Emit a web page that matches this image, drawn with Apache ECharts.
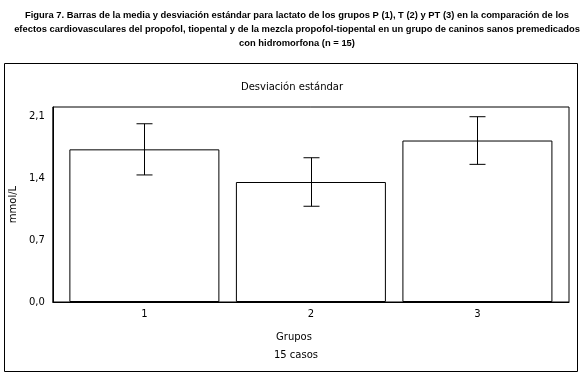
<!DOCTYPE html>
<html>
<head>
<meta charset="utf-8">
<script src="https://cdn.jsdelivr.net/npm/echarts@6/dist/echarts.min.js"></script>
<style>
  html, body { margin: 0; padding: 0; background: #fff; }
  #chart { width: 584px; height: 378px; }
</style>
</head>
<body>
<div id="chart"></div>
<script>
// datos
const grupos = [1, 2, 3];
const medias = [1.73, 1.36, 1.83];
const desvios = [0.29, 0.275, 0.27];
const yTicks = [0, 0.7, 1.4, 2.1];

const titulo = 'Figura 7. Barras de la media y desviación estándar para lactato de los grupos P (1), T (2) y PT (3) en la comparación de los\n' +
  'efectos cardiovasculares del propofol, tiopental y de la mezcla propofol-tiopental en un grupo de caninos sanos premedicados\n' +
  'con hidromorfona (n = 15)';

const fuente = 'DejaVu Sans';
const chart = echarts.init(document.getElementById('chart'));

const texto = (t, x, y, extra) => ({
  text: t,
  left: x,
  top: y,
  textAlign: 'center',
  textStyle: Object.assign({ fontFamily: fuente, fontWeight: 'normal', fontSize: 10, color: '#000' }, extra || {}),
});

chart.setOption({
  animation: false,
  backgroundColor: '#fff',
  title: [
    texto(titulo, 292, 3, { fontFamily: 'Liberation Sans', fontWeight: 'bold', fontSize: 9.4, lineHeight: 14 }),
    texto('Desviación estándar', 287, 77),
    texto('Grupos', 289, 327),
    texto('15 casos', 291, 345),
  ],
  graphic: [
    {
      // marco exterior
      type: 'rect',
      shape: { x: 4.5, y: 63.5, width: 573, height: 308 },
      style: { fill: 'none', stroke: '#000', lineWidth: 1 },
      silent: true,
    },
  ],
  grid: {
    left: 50,
    top: 107,
    right: 15,
    bottom: 76,
    show: true,
    borderColor: '#000',
    borderWidth: 1,
  },
  xAxis: {
    type: 'value',
    min: 0.45,
    max: 3.55,
    axisLine: { show: true, lineStyle: { color: '#000' } },
    axisTick: { show: false },
    splitLine: { show: false },
    axisLabel: {
      customValues: grupos,
      margin: 7,
      fontFamily: fuente,
      fontSize: 10,
      color: '#000',
    },
  },
  yAxis: {
    type: 'value',
    min: 0,
    max: 2.21,
    interval: 0.7,
    name: 'mmol/L',
    nameLocation: 'middle',
    nameGap: 26,
    nameTextStyle: { fontFamily: fuente, fontSize: 10, color: '#000' },
    axisLine: { show: true, lineStyle: { color: '#000' } },
    axisTick: { show: false },
    splitLine: { show: false },
    axisLabel: {
      customValues: yTicks,
      margin: 8,
      fontFamily: fuente,
      fontSize: 10,
      color: '#000',
      formatter: (v) => v.toFixed(1).replace('.', ','),
    },
  },
  series: [
    {
      type: 'bar',
      barWidth: 150,
      data: grupos.map((g, i) => [g, medias[i]]),
      itemStyle: { color: '#fff', borderColor: '#000', borderWidth: 1 },
      silent: true,
    },
    {
      type: 'custom',
      data: grupos.map((g, i) => [g, medias[i] - desvios[i], medias[i] + desvios[i]]),
      renderItem: (params, api) => {
        const lo = api.coord([api.value(0), api.value(1)]);
        const hi = api.coord([api.value(0), api.value(2)]);
        const x = Math.round(lo[0]) + 0.5;
        const cap = 8;
        const st = { stroke: '#000', lineWidth: 1 };
        return {
          type: 'group',
          children: [
            { type: 'line', shape: { x1: x, y1: hi[1], x2: x, y2: lo[1] }, style: st },
            { type: 'line', shape: { x1: x - cap, y1: hi[1], x2: x + cap, y2: hi[1] }, style: st },
            { type: 'line', shape: { x1: x - cap, y1: lo[1], x2: x + cap, y2: lo[1] }, style: st },
          ],
        };
      },
      z: 5,
      silent: true,
    },
  ],
});
</script>
</body>
</html>
